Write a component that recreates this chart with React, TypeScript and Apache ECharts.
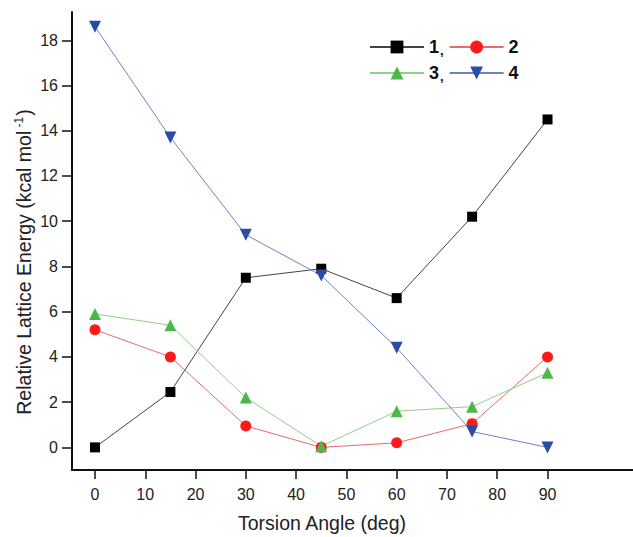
import React, { useEffect, useRef } from "react";
import * as echarts from "echarts";

const angles = [0, 15, 30, 45, 60, 75, 90];
const series1 = [0, 2.45, 7.5, 7.9, 6.6, 10.2, 14.5];
const series2 = [5.2, 4.0, 0.95, 0.0, 0.2, 1.05, 4.0];
const series3 = [5.9, 5.4, 2.2, 0.05, 1.6, 1.8, 3.3];
const series4 = [18.6, 13.7, 9.4, 7.6, 4.4, 0.7, 0.0];
const xTicks = [0, 10, 20, 30, 40, 50, 60, 70, 80, 90];
const yTicks = [0, 2, 4, 6, 8, 10, 12, 14, 16, 18];
const seriesNames = ["1", "2", "3", "4"];

const FONT = "Liberation Sans, Arial, sans-serif";

export default function App() {
  const ref = useRef<HTMLDivElement>(null);
  useEffect(() => {
    if (!ref.current) return;
    const chart = echarts.init(ref.current, null, { renderer: "svg" });
    const pts = (vals: number[]) => angles.map((a, i) => [a, vals[i]]);
    const mk = (
      name: string,
      vals: number[],
      lineColor: string,
      markColor: string,
      symbol: string,
      size: number,
      rotate = 0
    ) => ({
      name,
      type: "line",
      data: pts(vals),
      symbol,
      symbolSize: size,
      symbolRotate: rotate,
      showAllSymbol: true,
      lineStyle: { color: lineColor, width: 1 },
      itemStyle: { color: markColor, borderWidth: 0 },
      z: 3,
    });
    const legendCommon = {
      left: 364,
      itemWidth: 54,
      itemHeight: 16,
      itemGap: 5,
      textStyle: { fontFamily: FONT, fontSize: 18, fontWeight: "bold", color: "#111" },
      formatter: (n: string) => (n === "1" || n === "3" ? `{b|${n}}{c|,}` : `{b|${n}}`),
      selectedMode: false,
    };
    const rich = {
      b: { fontFamily: FONT, fontSize: 18, fontWeight: "bold", color: "#111" },
      c: { fontFamily: FONT, fontSize: 13, color: "#111", padding: [6, 0, 0, 1] },
    };
    chart.setOption({
      animation: false,
      backgroundColor: "#fff",
      grid: { left: 72, top: 12, right: 0, bottom: 67 },
      legend: [
        { ...legendCommon, top: 33, data: [seriesNames[0], seriesNames[1]], textStyle: { ...legendCommon.textStyle, rich } },
        { ...legendCommon, top: 59, data: [seriesNames[2], seriesNames[3]], textStyle: { ...legendCommon.textStyle, rich } },
      ],
      xAxis: {
        type: "value",
        min: -4.57,
        max: 107,
        splitLine: { show: false },
        axisLine: { show: true, onZero: false, lineStyle: { color: "#111", width: 2 } },
        axisTick: { show: true, length: 9, customValues: xTicks, lineStyle: { color: "#111", width: 1.5 } },
        axisLabel: {
          customValues: xTicks,
          margin: 16,
          fontFamily: FONT,
          fontSize: 16,
          color: "#222",
        },
      },
      yAxis: {
        type: "value",
        min: -1,
        max: 19.25,
        splitLine: { show: false },
        axisLine: { show: true, onZero: false, lineStyle: { color: "#111", width: 2 } },
        axisTick: { show: true, length: 10, customValues: yTicks, lineStyle: { color: "#111", width: 1.5 } },
        axisLabel: {
          customValues: yTicks,
          margin: 14,
          fontFamily: FONT,
          fontSize: 16,
          color: "#222",
        },
      },
      graphic: [
        {
          type: "text",
          x: 322,
          y: 523,
          style: {
            text: "Torsion Angle (deg)",
            fontFamily: FONT,
            fontSize: 19.5,
            fill: "#222",
            align: "center",
            verticalAlign: "middle",
          },
        },
        {
          type: "text",
          x: 24,
          y: 262,
          rotation: Math.PI / 2,
          style: {
            text: "Relative Lattice Energy (kcal mol{sup| -1}{p|)}",
            fontFamily: FONT,
            fontSize: 19.5,
            fill: "#222",
            align: "center",
            verticalAlign: "middle",
            rich: {
              sup: { fontFamily: FONT, fontSize: 12, fill: "#222", padding: [0, 1, 10, 0] },
              p: { fontFamily: FONT, fontSize: 19.5, fill: "#222" },
            },
          },
        },
      ],
      series: [
        mk(seriesNames[0], series1, "#444", "#000", "rect", 10),
        mk(seriesNames[1], series2, "#e86a6a", "#ff1a1a", "circle", 11),
        mk(seriesNames[2], series3, "#8fd08a", "#4cb84a", "triangle", 12),
        mk(seriesNames[3], series4, "#6d82c4", "#2b4ca6", "triangle", 12, 180),
      ],
    });
    return () => chart.dispose();
  }, []);
  return (
    <div
      ref={ref}
      style={{ position: "fixed", left: 0, top: 0, width: 633, height: 537 }}
    />
  );
}
